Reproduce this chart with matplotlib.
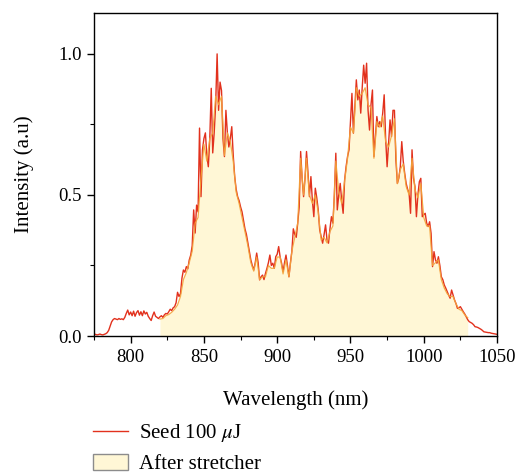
import numpy as np
import matplotlib

matplotlib.use("Agg")
import matplotlib.pyplot as plt  # noqa: E402
from matplotlib.lines import Line2D  # noqa: E402
from matplotlib.patches import Patch  # noqa: E402

# Seed spectrum, 1 nm steps from 775 to 1050 nm
seed_start = 775
seed_intensity = [
    0.005, 0.006, 0.004, 0.005, 0.007, 0.005, 0.004, 0.006, 0.008, 0.012,
    0.020, 0.035, 0.050, 0.058, 0.062,
    0.060, 0.058, 0.062, 0.059, 0.061, 0.058, 0.066, 0.080, 0.092, 0.075,
    0.085, 0.072, 0.088, 0.070, 0.083, 0.090, 0.074, 0.086, 0.072, 0.089,
    0.078, 0.084, 0.070, 0.062, 0.055, 0.072, 0.085, 0.070, 0.066, 0.062,
    0.068, 0.072, 0.066, 0.075, 0.080, 0.078, 0.086, 0.095, 0.090, 0.100,
    0.104, 0.118, 0.155, 0.140, 0.150, 0.205, 0.234, 0.226, 0.246, 0.238,
    0.270, 0.287, 0.320, 0.447, 0.365, 0.464, 0.440, 0.737, 0.494, 0.660,
    0.700, 0.720, 0.640, 0.600, 0.700, 0.878, 0.649, 0.720, 0.820, 1.000,
    0.800, 0.900, 0.870, 0.700, 0.636, 0.800, 0.720, 0.670, 0.700, 0.742,
    0.640, 0.565, 0.520, 0.494, 0.480, 0.458, 0.440, 0.410, 0.380, 0.360,
    0.330, 0.300, 0.270, 0.250, 0.234, 0.260, 0.294, 0.260, 0.199, 0.210,
    0.216, 0.200, 0.222, 0.240, 0.260, 0.287, 0.250, 0.258, 0.240, 0.281,
    0.290, 0.317, 0.280, 0.258, 0.228, 0.260, 0.287, 0.250, 0.210, 0.258,
    0.300, 0.380, 0.360, 0.350, 0.400, 0.458, 0.654, 0.560, 0.494, 0.560,
    0.654, 0.580, 0.494, 0.565, 0.480, 0.423, 0.524, 0.490, 0.447, 0.376,
    0.352, 0.329, 0.360, 0.394, 0.340, 0.329, 0.380, 0.423, 0.400, 0.500,
    0.648, 0.447, 0.500, 0.541, 0.480, 0.435, 0.553, 0.600, 0.636, 0.660,
    0.760, 0.860, 0.719, 0.813, 0.908, 0.837, 0.872, 0.790, 0.880, 0.960,
    0.896, 0.967, 0.800, 0.730, 0.820, 0.872, 0.636, 0.707, 0.778, 0.742,
    0.760, 0.742, 0.790, 0.855, 0.700, 0.600, 0.683, 0.766, 0.707, 0.800,
    0.800, 0.624, 0.541, 0.560, 0.600, 0.689, 0.620, 0.577, 0.541, 0.520,
    0.506, 0.435, 0.660, 0.560, 0.530, 0.423, 0.500, 0.547, 0.559, 0.423,
    0.430, 0.435, 0.400, 0.388, 0.405, 0.364, 0.246, 0.299, 0.270, 0.258,
    0.281, 0.250, 0.210, 0.200, 0.181, 0.170, 0.157, 0.145, 0.134, 0.163,
    0.145, 0.128, 0.115, 0.098, 0.100, 0.104, 0.095, 0.086, 0.078, 0.068,
    0.058, 0.051, 0.048, 0.045, 0.040, 0.033, 0.032, 0.030, 0.027, 0.024,
    0.020, 0.015, 0.014, 0.013, 0.012, 0.012, 0.010, 0.009, 0.008, 0.007, 0.006,
]

# After stretcher, 2 nm steps from 820 to 1030 nm
stretch_start = 820
stretch_intensity = [
    0.060, 0.062, 0.072, 0.076, 0.084, 0.095, 0.110, 0.140, 0.200, 0.225,
    0.260, 0.300, 0.400, 0.420, 0.560, 0.680, 0.620, 0.700, 0.720, 0.850,
    0.820, 0.850, 0.640, 0.720, 0.690, 0.620, 0.510, 0.470, 0.420, 0.370,
    0.320, 0.260, 0.230, 0.280, 0.200, 0.210, 0.210, 0.250, 0.240, 0.240,
    0.280, 0.280, 0.220, 0.270, 0.210, 0.300, 0.350, 0.400, 0.630, 0.500,
    0.630, 0.500, 0.470, 0.500, 0.440, 0.340, 0.350, 0.330, 0.370, 0.390,
    0.620, 0.510, 0.470, 0.550, 0.630, 0.740, 0.720, 0.880, 0.850, 0.860,
    0.880, 0.820, 0.810, 0.630, 0.760, 0.740, 0.780, 0.690, 0.670, 0.710,
    0.770, 0.540, 0.590, 0.610, 0.530, 0.500, 0.630, 0.520, 0.490, 0.540,
    0.420, 0.390, 0.390, 0.250, 0.260, 0.270, 0.200, 0.170, 0.150, 0.140,
    0.140, 0.115, 0.095, 0.090, 0.075, 0.065,
]

seed_wl = seed_start + np.arange(len(seed_intensity))
stretch_wl = stretch_start + 2 * np.arange(len(stretch_intensity))

plt.rcParams["font.family"] = ["Liberation Serif", "DejaVu Serif"]
plt.rcParams["mathtext.fontset"] = "stix"

fig = plt.figure(figsize=(5.18, 4.74), dpi=100)
ax = fig.add_axes([0.1815, 0.2911, 0.778, 0.6815])

fill_color = "#FFF7D6"
seed_color = "#E2311D"
ax.fill_between(stretch_wl, stretch_intensity, 0, color=fill_color, lw=0, zorder=1)
ax.plot(seed_wl, seed_intensity, color=seed_color, lw=1.0, zorder=2)
ax.plot(stretch_wl, stretch_intensity, color="#F4A53A", lw=0.9, alpha=0.9, zorder=3)

ax.set_xlim(775, 1050)
ax.set_ylim(0, 1.145)
ax.set_xticks([800, 850, 900, 950, 1000, 1050])
ax.set_xticks(np.arange(775, 1051, 25), minor=True)
ax.set_yticks([0.0, 0.5, 1.0])
ax.set_yticks([0.25, 0.75], minor=True)
ax.yaxis.set_major_formatter(matplotlib.ticker.FormatStrFormatter("%.1f"))
ax.tick_params(which="major", direction="out", length=5, width=1.0, pad=4, labelsize=13.5)
ax.tick_params(which="minor", direction="out", length=3, width=0.8)
for sp in ax.spines.values():
    sp.set_linewidth(1.0)

ax.set_xlabel("Wavelength (nm)", fontsize=15, labelpad=18)
ax.set_ylabel("Intensity (a.u)", fontsize=15, labelpad=17)

handles = [
    Line2D([], [], color=seed_color, lw=1.0),
    Patch(facecolor=fill_color, edgecolor="#8C8C8C", lw=1.0),
]
fig.legend(
    handles,
    ["Seed 100 $\\mu$J", "After stretcher"],
    loc="upper left",
    bbox_to_anchor=(0.1795, 0.109),
    borderpad=0,
    borderaxespad=0,
    frameon=False,
    fontsize=15,
    handlelength=1.7,
    handleheight=0.85,
    labelspacing=0.45,
    handletextpad=0.5,
)

fig.savefig("out.png", dpi=100)
